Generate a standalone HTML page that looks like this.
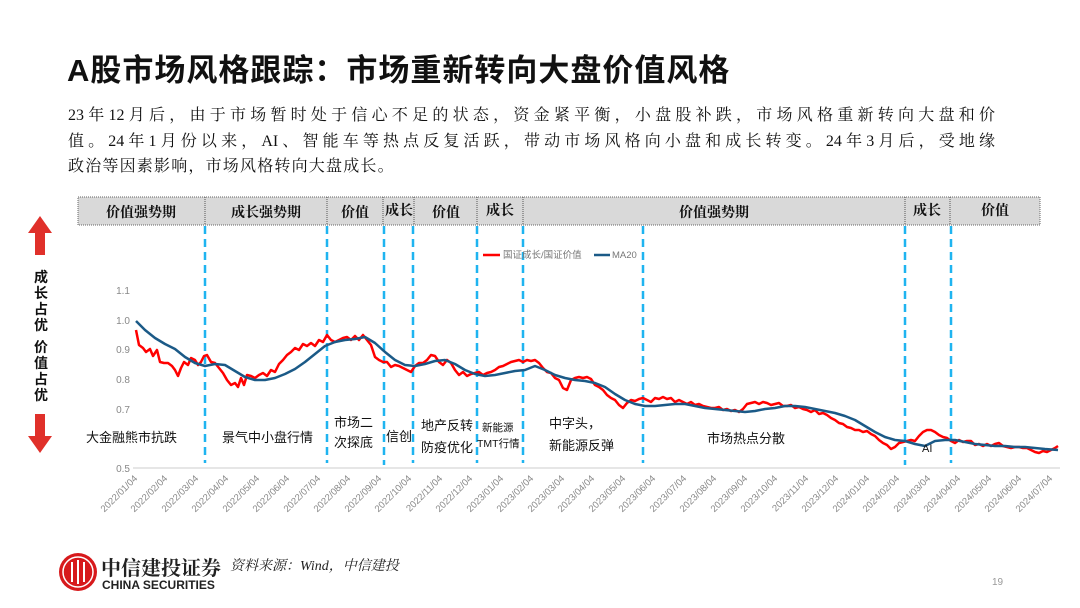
<!DOCTYPE html>
<html><head><meta charset="utf-8"><style>
body{margin:0;width:1080px;height:608px;background:#fff;position:relative;overflow:hidden;font-family:"Liberation Sans","Noto Sans CJK SC",sans-serif}
.t{position:absolute;white-space:nowrap}
.p{position:absolute;left:68px;width:927px;font-family:"Liberation Serif","Noto Serif CJK SC",serif;font-size:16px;color:#111;text-align:justify;text-align-last:justify;white-space:nowrap}
</style></head><body>
<div class="t" style="left:67px;top:45px;font-size:31px;font-weight:bold;color:#111;letter-spacing:1px">A股市场风格跟踪：市场重新转向大盘价值风格</div>
<div class="p" style="top:102px">23年12月后，由于市场暂时处于信心不足的状态，资金紧平衡，小盘股补跌，市场风格重新转向大盘和价</div>
<div class="p" style="top:128px">值。24年1月份以来，AI、智能车等热点反复活跃，带动市场风格向小盘和成长转变。24年3月后，受地缘</div>
<div class="p" style="top:153px;width:auto;text-align-last:auto;letter-spacing:1.2px">政治等因素影响，市场风格转向大盘成长。</div>
<svg width="1080" height="608" style="position:absolute;left:0;top:0" font-family="Liberation Sans,Noto Sans CJK SC,sans-serif">
<g stroke="#666" stroke-dasharray="1,1" fill="#d9d9d9">
<rect x="78" y="197" width="962" height="28"/>
</g>
<g stroke="#555" stroke-dasharray="1,1">
<line x1="205" y1="197" x2="205" y2="225"/><line x1="327" y1="197" x2="327" y2="225"/><line x1="383" y1="197" x2="383" y2="225"/><line x1="414" y1="197" x2="414" y2="225"/><line x1="477" y1="197" x2="477" y2="225"/><line x1="523" y1="197" x2="523" y2="225"/><line x1="905" y1="197" x2="905" y2="225"/><line x1="950" y1="197" x2="950" y2="225"/>
</g>
<g font-family="Noto Serif CJK SC,serif" font-weight="bold" font-size="14" fill="#111" text-anchor="middle">
<text x="141" y="217">价值强势期</text><text x="266" y="217">成长强势期</text><text x="355" y="217">价值</text><text x="399" y="215">成长</text><text x="446" y="217">价值</text><text x="500" y="215">成长</text><text x="714" y="217">价值强势期</text><text x="927" y="215">成长</text><text x="995" y="215">价值</text>
</g>
<g stroke="#1fb4f0" stroke-width="2.5" stroke-dasharray="8,5">
<line x1="205" y1="226" x2="205" y2="463"/><line x1="327" y1="226" x2="327" y2="463"/><line x1="384" y1="226" x2="384" y2="465"/><line x1="413" y1="226" x2="413" y2="463"/><line x1="477" y1="226" x2="477" y2="463"/><line x1="523" y1="226" x2="523" y2="463"/><line x1="643" y1="226" x2="643" y2="463"/><line x1="905" y1="226" x2="905" y2="465"/><line x1="951" y1="226" x2="951" y2="463"/>
</g>
<line x1="483" y1="255" x2="500" y2="255" stroke="#f00" stroke-width="2.5"/>
<text x="503" y="258" font-size="9.5" fill="#777">国证成长/国证价值</text>
<line x1="594" y1="255" x2="610" y2="255" stroke="#1b5a87" stroke-width="2.5"/>
<text x="612" y="258" font-size="9.5" fill="#777">MA20</text>
<g font-size="10" fill="#888" text-anchor="end">
<text x="130" y="294">1.1</text><text x="130" y="324">1.0</text><text x="130" y="353">0.9</text><text x="130" y="383">0.8</text><text x="130" y="413">0.7</text><text x="130" y="472">0.5</text>
</g>
<line x1="133" y1="468" x2="1060" y2="468" stroke="#ccc"/>
<g font-size="9.5" fill="#888">
<text transform="translate(138,479) rotate(-45)" text-anchor="end">2022/01/04</text><text transform="translate(168,479) rotate(-45)" text-anchor="end">2022/02/04</text><text transform="translate(199,479) rotate(-45)" text-anchor="end">2022/03/04</text><text transform="translate(229,479) rotate(-45)" text-anchor="end">2022/04/04</text><text transform="translate(260,479) rotate(-45)" text-anchor="end">2022/05/04</text><text transform="translate(290,479) rotate(-45)" text-anchor="end">2022/06/04</text><text transform="translate(321,479) rotate(-45)" text-anchor="end">2022/07/04</text><text transform="translate(351,479) rotate(-45)" text-anchor="end">2022/08/04</text><text transform="translate(382,479) rotate(-45)" text-anchor="end">2022/09/04</text><text transform="translate(412,479) rotate(-45)" text-anchor="end">2022/10/04</text><text transform="translate(443,479) rotate(-45)" text-anchor="end">2022/11/04</text><text transform="translate(473,479) rotate(-45)" text-anchor="end">2022/12/04</text><text transform="translate(504,479) rotate(-45)" text-anchor="end">2023/01/04</text><text transform="translate(534,479) rotate(-45)" text-anchor="end">2023/02/04</text><text transform="translate(565,479) rotate(-45)" text-anchor="end">2023/03/04</text><text transform="translate(595,479) rotate(-45)" text-anchor="end">2023/04/04</text><text transform="translate(626,479) rotate(-45)" text-anchor="end">2023/05/04</text><text transform="translate(656,479) rotate(-45)" text-anchor="end">2023/06/04</text><text transform="translate(687,479) rotate(-45)" text-anchor="end">2023/07/04</text><text transform="translate(717,479) rotate(-45)" text-anchor="end">2023/08/04</text><text transform="translate(748,479) rotate(-45)" text-anchor="end">2023/09/04</text><text transform="translate(778,479) rotate(-45)" text-anchor="end">2023/10/04</text><text transform="translate(809,479) rotate(-45)" text-anchor="end">2023/11/04</text><text transform="translate(839,479) rotate(-45)" text-anchor="end">2023/12/04</text><text transform="translate(870,479) rotate(-45)" text-anchor="end">2024/01/04</text><text transform="translate(900,479) rotate(-45)" text-anchor="end">2024/02/04</text><text transform="translate(931,479) rotate(-45)" text-anchor="end">2024/03/04</text><text transform="translate(961,479) rotate(-45)" text-anchor="end">2024/04/04</text><text transform="translate(992,479) rotate(-45)" text-anchor="end">2024/05/04</text><text transform="translate(1022,479) rotate(-45)" text-anchor="end">2024/06/04</text><text transform="translate(1053,479) rotate(-45)" text-anchor="end">2024/07/04</text>
</g>
<polyline fill="none" stroke="#f00" stroke-width="2.5" stroke-linejoin="round" points="136,330 139,345 143,348 146,352 150,349 153,356 157,350 160,362 164,363 168,363 172,366 175,370 178,376 181,368 184,362 188,365 191,358 195,360 198,365 201,362 204,356 207,355 211,362 215,363 219,368 223,373 227,380 231,385 235,383 238,387 241,378 244,385 247,375 251,376 255,378 259,375 263,373 267,376 271,370 275,372 279,364 283,360 287,355 291,352 295,348 299,350 303,344 307,346 311,343 315,346 319,340 323,342 327,335 331,340 335,342 339,340 343,338 347,337 351,340 355,336 359,340 363,335 367,340 371,345 375,357 379,360 383,362 387,362 391,367 395,365 399,366 403,368 407,370 411,372 415,366 419,363 423,363 427,360 431,355 435,356 439,362 443,365 447,360 451,363 455,370 459,375 463,372 467,376 471,374 475,373 479,372 483,375 487,373 491,372 495,370 499,367 503,366 507,364 511,362 515,361 519,360 523,362 527,360 531,361 535,360 539,363 543,368 547,372 551,373 555,378 559,380 563,388 567,390 571,380 575,378 579,377 583,378 587,377 591,379 595,385 599,387 603,390 607,395 611,398 615,400 619,405 623,408 627,403 631,400 635,401 639,399 643,398 647,400 651,402 655,398 659,399 663,397 667,399 671,398 675,402 679,400 683,402 687,404 691,402 695,405 699,404 703,406 707,407 711,408 715,408 719,407 723,410 727,409 731,411 735,410 739,412 743,409 747,404 751,403 755,402 759,404 763,402 767,403 771,405 775,404 779,403 783,406 787,406 791,405 795,408 799,407 803,409 807,410 811,412 815,410 819,414 823,413 827,415 831,418 835,420 839,423 843,424 847,427 851,428 855,430 859,430 863,432 867,431 871,434 875,436 879,440 883,443 887,445 891,449 895,447 899,443 903,442 907,441 911,440 915,441 919,436 923,432 927,430 931,430 935,432 939,435 943,437 947,438 951,441 955,443 959,440 963,442 967,441 971,441 975,445 979,444 983,446 987,444 991,446 995,444 999,443 1003,446 1007,447 1011,448 1015,447 1019,447 1023,448 1027,448 1031,450 1035,452 1039,453 1043,451 1047,452 1051,450 1055,448 1058,446"/>
<polyline fill="none" stroke="#1b5a87" stroke-width="2.5" stroke-linejoin="round" points="136,321 145,330 155,338 165,344 175,349 185,357 195,363 205,366 215,364 225,365 235,371 245,377 255,380 265,380 275,378 285,374 295,369 305,362 315,354 325,346 335,342 345,340 355,339 365,337 375,343 385,352 395,360 405,365 415,366 425,364 435,361 445,360 455,364 465,370 475,374 485,376 495,375 505,373 515,371 525,370 535,366 545,370 555,375 565,378 575,380 585,381 595,383 605,387 615,394 625,400 635,404 645,406 655,406 665,405 675,404 685,404 695,406 705,408 715,409 725,410 735,411 745,412 755,411 765,409 775,408 785,406 795,406 805,407 815,409 825,411 835,413 845,416 855,420 865,426 875,432 885,437 895,440 905,441 915,444 925,446 935,441 945,440 955,440 965,442 975,444 985,445 995,446 1005,446 1015,447 1025,447 1035,448 1045,449 1058,450"/>
<g font-size="13" fill="#111">
<text x="86" y="442">大金融熊市抗跌</text><text x="222" y="442">景气中小盘行情</text><text x="334" y="427">市场二</text><text x="334" y="447">次探底</text><text x="386" y="441">信创</text><text x="421" y="430">地产反转</text><text x="421" y="452">防疫优化</text><text x="549" y="428">中字头，</text><text x="549" y="450">新能源反弹</text><text x="707" y="443">市场热点分散</text>
</g>
<text x="482" y="431" font-size="10.5" fill="#111">新能源</text><text x="477" y="447" font-size="10.5" fill="#111">TMT行情</text>
<text x="922" y="452" font-size="11" fill="#111">AI</text>
<polygon points="40,216 28,233 35,233 35,255 45,255 45,233 52,233" fill="#e0302a"/>
<polygon points="40,453 28,436 35,436 35,414 45,414 45,436 52,436" fill="#e0302a"/>
<g font-size="14" font-weight="bold" fill="#111" text-anchor="middle">
<text x="41" y="282">成</text><text x="41" y="298">长</text><text x="41" y="314">占</text><text x="41" y="330">优</text><text x="41" y="352">价</text><text x="41" y="368">值</text><text x="41" y="384">占</text><text x="41" y="400">优</text>
</g>
<circle cx="78" cy="572" r="19" fill="#d7191c"/>
<circle cx="78" cy="572" r="15" fill="none" stroke="#fff" stroke-width="1.5"/>
<g stroke="#fff" stroke-width="2"><line x1="72" y1="562" x2="72" y2="582"/><line x1="78" y1="560" x2="78" y2="584"/><line x1="84" y1="562" x2="84" y2="582"/></g>
<text x="101" y="575" font-family="Noto Serif CJK SC,serif" font-size="20" font-weight="bold" fill="#222">中信建投证券</text>
<text x="102" y="589" font-size="12" font-weight="bold" fill="#222">CHINA SECURITIES</text>
<text x="230" y="570" font-family="Liberation Serif,Noto Serif CJK SC,serif" font-style="italic" font-size="14" fill="#222">资料来源：Wind，中信建投</text>
<text x="992" y="585" font-size="10" fill="#999">19</text>
</svg>
</body></html>
